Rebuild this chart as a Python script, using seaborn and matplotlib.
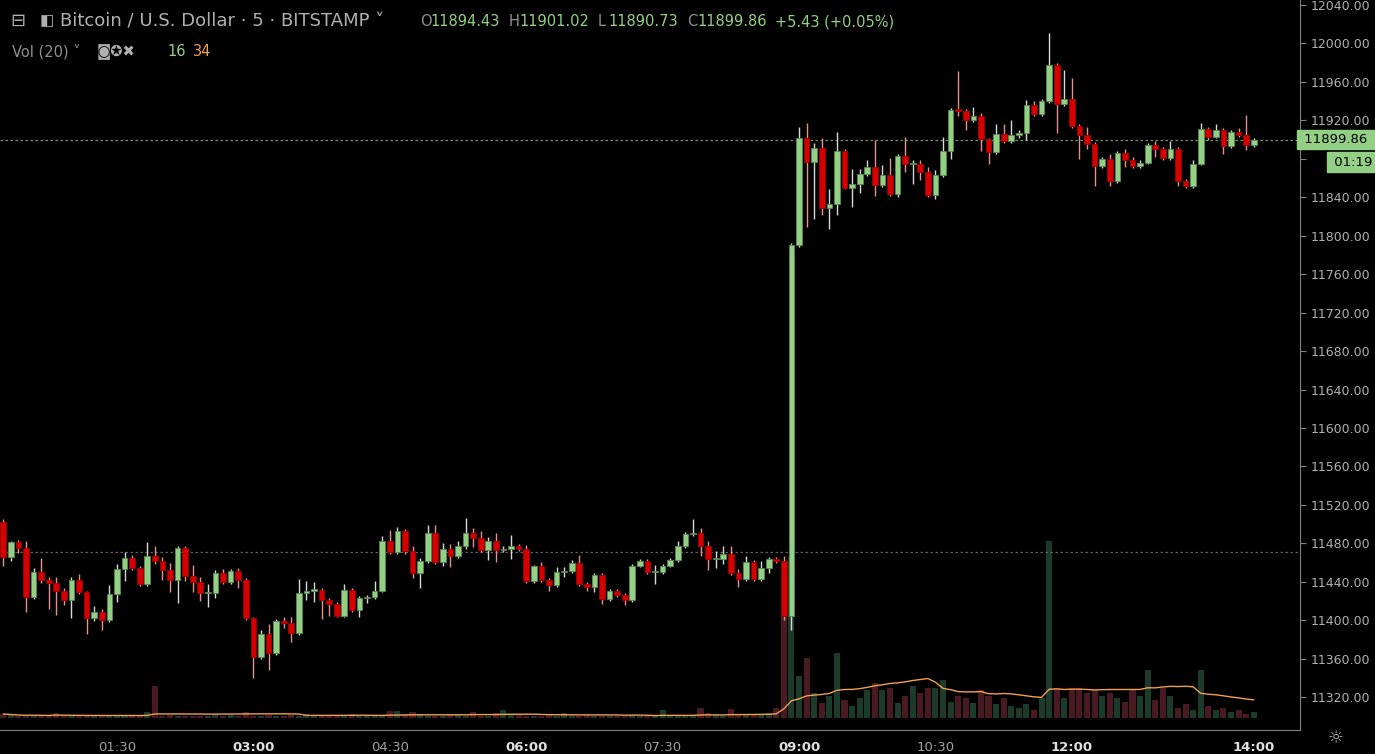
import matplotlib
matplotlib.use("Agg")
import matplotlib.pyplot as plt
import seaborn as sns
import numpy as np
import pandas as pd

# 5-minute candles, 00:15 .. 14:00
closes = [11466, 11481, 11475, 11424, 11450, 11442, 11439, 11431, 11421, 11442,
          11429, 11402, 11409, 11400, 11427, 11453, 11465, 11454, 11438, 11467,
          11462, 11452, 11442, 11475, 11446, 11440, 11428, 11428, 11449, 11440,
          11451, 11442, 11402, 11362, 11386, 11366, 11399, 11397, 11387, 11428,
          11431, 11432, 11421, 11417, 11405, 11432, 11411, 11423, 11424, 11431,
          11482, 11471, 11493, 11472, 11449, 11462, 11491, 11461, 11474, 11467,
          11477, 11491, 11486, 11473, 11482, 11473, 11474, 11477, 11474, 11441,
          11456, 11442, 11437, 11450, 11451, 11460, 11438, 11435, 11447, 11422,
          11431, 11426, 11421, 11457, 11462, 11450, 11450, 11457, 11463, 11477,
          11490, 11491, 11477, 11464, 11464, 11469, 11449, 11443, 11461, 11443,
          11454, 11464, 11462, 11405, 11790, 11902, 11877, 11891, 11829, 11833,
          11888, 11850, 11854, 11864, 11871, 11853, 11863, 11843, 11883, 11874,
          11874, 11866, 11842, 11863, 11888, 11931, 11930, 11920, 11924, 11900,
          11887, 11906, 11898, 11905, 11907, 11936, 11926, 11940, 11977, 11937,
          11942, 11914, 11905, 11895, 11872, 11880, 11857, 11886, 11879, 11872,
          11876, 11894, 11890, 11881, 11890, 11857, 11852, 11875, 11911, 11903,
          11910, 11893, 11908, 11905, 11894, 11899.86]
first_open = 11502
upper_wick = [3, 2, 3, 8, 4, 15, 3, 6, 3, 3,
              6, 2, 6, 3, 10, 6, 6, 3, 3, 14,
              10, 4, 8, 2, 2, 12, 5, 10, 3, 4,
              2, 3, 2, 2, 4, 10, 2, 4, 6, 15,
              10, 8, 2, 2, 2, 6, 2, 2, 2, 10,
              6, 12, 4, 2, 5, 3, 8, 8, 6, 5,
              5, 15, 5, 7, 5, 9, 3, 12, 2, 4,
              2, 5, 2, 5, 4, 3, 8, 2, 2, 2,
              2, 2, 2, 2, 2, 2, 8, 2, 2, 5,
              2, 14, 5, 5, 8, 8, 8, 4, 6, 2,
              8, 2, 2, 5, 2, 11, 15, 5, 10, 15,
              20, 2, 15, 5, 8, 28, 10, 18, 2, 20,
              5, 5, 5, 5, 15, 2, 40, 2, 10, 3,
              2, 10, 10, 15, 3, 5, 4, 2, 34, 2,
              30, 22, 2, 8, 2, 2, 5, 2, 4, 3,
              3, 2, 4, 2, 8, 2, 2, 4, 6, 2,
              6, 2, 2, 4, 20, 2]
lower_wick = [10, 4, 5, 15, 2, 3, 27, 25, 5, 19,
              2, 16, 3, 10, 2, 8, 12, 2, 2, 2,
              3, 10, 12, 24, 5, 10, 8, 14, 5, 2,
              2, 8, 2, 22, 2, 18, 2, 5, 10, 2,
              7, 12, 20, 12, 2, 2, 2, 8, 5, 2,
              2, 2, 2, 3, 5, 15, 2, 2, 5, 12,
              2, 3, 10, 2, 10, 12, 2, 10, 2, 2,
              2, 2, 6, 2, 5, 2, 2, 4, 5, 5,
              2, 2, 5, 2, 2, 2, 12, 2, 2, 2,
              2, 2, 10, 12, 10, 5, 2, 8, 2, 2,
              2, 5, 2, 5, 15, 2, 68, 60, 8, 22,
              12, 2, 20, 10, 2, 12, 2, 2, 3, 8,
              20, 8, 2, 4, 2, 8, 6, 10, 2, 12,
              12, 2, 2, 2, 3, 8, 2, 2, 2, 30,
              2, 2, 25, 5, 20, 2, 5, 2, 8, 2,
              2, 2, 8, 2, 2, 5, 2, 2, 2, 4,
              2, 8, 2, 2, 5, 2]
volumes = [4, 3, 2, 2, 3, 2, 2, 5, 2, 2,
           2, 2, 2, 3, 2, 2, 2, 3, 2, 6,
           32, 2, 3, 2, 2, 2, 2, 2, 4, 2,
           3, 2, 6, 2, 2, 3, 2, 2, 3, 2,
           4, 2, 2, 2, 3, 3, 4, 2, 2, 2,
           2, 7, 7, 4, 6, 3, 2, 2, 2, 4,
           3, 2, 6, 2, 2, 5, 8, 4, 3, 2,
           2, 2, 3, 2, 5, 2, 2, 3, 2, 2,
           2, 2, 2, 3, 2, 2, 2, 8, 3, 2,
           2, 2, 10, 5, 3, 2, 9, 3, 3, 3,
           4, 5, 10, 105, 161, 42, 60, 25, 15, 22,
           65, 18, 12, 20, 28, 35, 28, 30, 15, 22,
           32, 25, 30, 30, 38, 16, 22, 20, 15, 28,
           22, 14, 20, 12, 10, 14, 8, 20, 177, 30,
           20, 30, 30, 25, 28, 22, 25, 20, 16, 28,
           22, 48, 18, 30, 22, 10, 14, 8, 48, 12,
           8, 10, 6, 8, 4, 6]
tick_pos = [15, 33, 51, 69, 87, 105, 123, 141, 165]
tick_labels = ["01:30", "03:00", "04:30", "06:00", "07:30", "09:00", "10:30", "12:00", "14:00"]
price_ticks = list(range(11320, 12041, 40))

n = len(closes)
df = pd.DataFrame({"idx": np.arange(n), "close": closes, "vol": volumes})
df["open"] = [first_open] + closes[:-1]
df["high"] = df[["open", "close"]].max(axis=1) + np.array(upper_wick)
df["low"] = df[["open", "close"]].min(axis=1) - np.array(lower_wick)
df["up"] = df["close"] >= df["open"]
df["ma"] = df["vol"].rolling(20, min_periods=1).mean()

sns.set_style("dark")
plt.rcParams["font.family"] = ["DejaVu Sans"]
BG = "#000000"
UP, DN = "#93cf84", "#d50000"
fig = plt.figure(figsize=(13.75, 7.54), dpi=100, facecolor=BG)
W, H = 1375, 754
ax = fig.add_axes([0, 24 / H, 1300 / W, 1 - 24 / H])
ax.set_facecolor(BG)
axv = ax.twinx()
axv.set_zorder(0)
ax.set_zorder(1)
ax.patch.set_visible(False)
axv.set_facecolor(BG)
fig.patch.set_facecolor(BG)

# volume
axv.bar(df["idx"], df["vol"], width=0.8,
        color=np.where(df["up"], "#1d3b2a", "#4a1a22"), edgecolor="none",
        linewidth=0, zorder=1)
sns.lineplot(x="idx", y="ma", data=df, ax=axv, color="#f0a050", linewidth=1)
axv.set_ylim(-12, 718)
axv.set_yticks([])
axv.set_ylabel("")

# candles
wick_c = np.where(df["up"], "#d8d8d8", "#e89090")
ax.vlines(df["idx"], df["low"], df["high"], colors=wick_c, linewidth=1, zorder=2)
body = (df["close"] - df["open"]).abs().clip(lower=1.2)
ax.bar(df["idx"], body, bottom=df[["open", "close"]].min(axis=1), width=0.75,
       color=np.where(df["up"], UP, DN), edgecolor=np.where(df["up"], "#5a8a50", "#a00000"),
       linewidth=0.6, zorder=3)

ax.axhline(closes[-1], color="#6a9a5a", linestyle=(0, (2, 2)), linewidth=0.9, zorder=1)
ax.axhline(11471, color="#606060", linestyle=(0, (2, 2)), linewidth=0.9, zorder=1)

ax.set_xlim(-0.43, 171.1)
ax.set_ylim(11286, 12045)
ax.yaxis.tick_right()
ax.set_yticks(price_ticks)
ax.set_yticklabels([str(p) + ".00" if p != 11880 else "" for p in price_ticks],
                   color="#b0b0b0", fontsize=9)
ax.set_xticks(tick_pos)
ax.set_xticklabels(tick_labels, fontsize=9.5)
for lab in ax.get_xticklabels():
    if lab.get_text() in ("03:00", "06:00", "09:00", "12:00", "14:00"):
        lab.set_color("#e0e0e0")
        lab.set_fontweight("bold")
    else:
        lab.set_color("#a0a0a0")
ax.tick_params(axis="both", length=4, color="#808080", pad=4)
ax.grid(False)
axv.grid(False)
for a in (ax, axv):
    for s in a.spines.values():
        s.set_visible(False)
ax.spines["right"].set_visible(True)
ax.spines["right"].set_color("#808080")
ax.spines["bottom"].set_visible(True)
ax.spines["bottom"].set_color("#808080")

# price label
ax.text(1.0, closes[-1], " 11899.86 ", transform=ax.get_yaxis_transform(),
        ha="left", va="center", fontsize=9.5, color="#000000",
        bbox=dict(boxstyle="square,pad=0.25", fc=UP, ec=UP), zorder=5, clip_on=False)
fig.text(1330 / W, 1 - 162 / H, " 01:19 ", ha="left", va="center", fontsize=9.5,
         color="#000000", bbox=dict(boxstyle="square,pad=0.25", fc=UP, ec=UP))


def ft(x, y, s, c, **kw):
    fig.text(x / W, 1 - y / H, s, color=c, va="center", ha="left", **kw)


ft(10, 21, "⊟", "#b0b0b0", fontsize=13)
ft(40, 21, "◧", "#b0b0b0", fontsize=11)
ft(60, 21, "Bitcoin / U.S. Dollar · 5 · BITSTAMP ˅", "#b0b0b0", fontsize=13)
gx = 420
for lbl, val in [("O", "11894.43"), ("H", "11901.02"), ("L", "11890.73"), ("C", "11899.86")]:
    ft(gx, 22, lbl, "#909090", fontsize=10.5)
    ft(gx + 10, 22, val, UP, fontsize=10.5)
    gx += 89
ft(775, 22, "+5.43 (+0.05%)", UP, fontsize=10.5)
ft(12, 52, "Vol (20) ˅", "#909090", fontsize=10.5)
ft(97, 52, "◙✪✖", "#b0b0b0", fontsize=10.5)
ft(167, 52, "16", UP, fontsize=10.5)
ft(193, 52, "34", "#f0a050", fontsize=10.5)
ft(1328, 738, "☼", "#b0b0b0", fontsize=13)

fig.savefig("out.png", dpi=100, facecolor=BG)
